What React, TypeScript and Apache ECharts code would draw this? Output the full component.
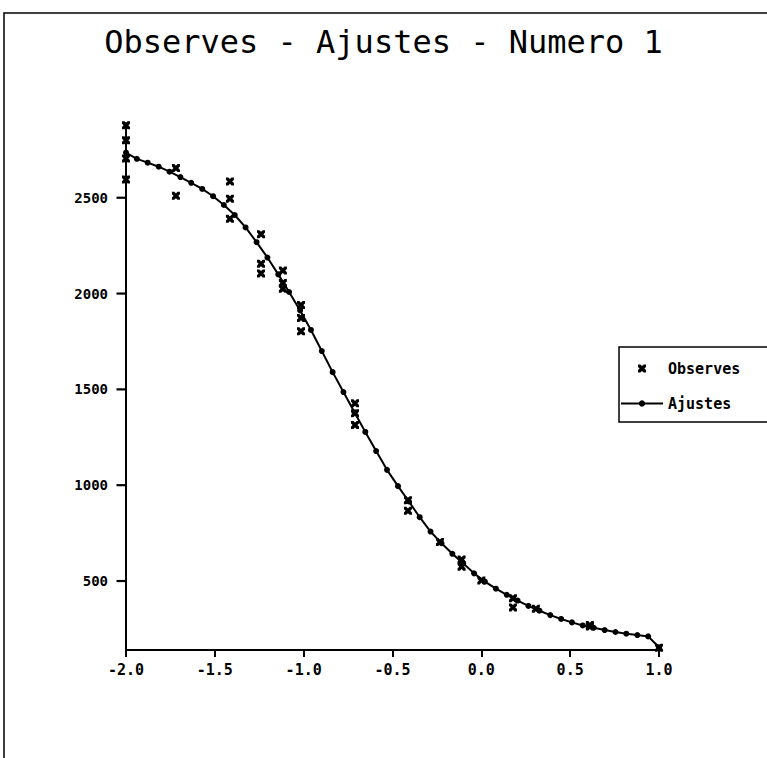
import React, { useEffect, useRef } from "react";
import * as echarts from "echarts";

const titleText = "Observes - Ajustes - Numero 1";
const seriesNames = ["Observes", "Ajustes"];

const xTickValues = [-2.0, -1.5, -1.0, -0.5, 0.0, 0.5, 1.0];
const yTickValues = [500, 1000, 1500, 2000, 2500];

// Fitted curve (Ajustes)
const fitX = [
  -2.0, -1.939, -1.878, -1.816, -1.755, -1.694, -1.633, -1.571, -1.51, -1.449,
  -1.388, -1.327, -1.265, -1.204, -1.143, -1.082, -1.02, -0.959, -0.898, -0.837,
  -0.776, -0.714, -0.653, -0.592, -0.531, -0.469, -0.408, -0.347, -0.286, -0.224,
  -0.163, -0.102, -0.041, 0.02, 0.082, 0.143, 0.204, 0.265, 0.327, 0.388,
  0.449, 0.51, 0.571, 0.633, 0.694, 0.755, 0.816, 0.878, 0.939, 1.0,
];
const fitY = [
  2735, 2703, 2683, 2662, 2636, 2608, 2578, 2546, 2508, 2462,
  2410, 2345, 2268, 2188, 2100, 2008, 1912, 1810, 1700, 1590,
  1486, 1381, 1278, 1178, 1080, 995, 915, 833, 758, 697,
  642, 592, 540, 497, 460, 428, 398, 370, 345, 322,
  302, 284, 268, 256, 244, 234, 225, 218, 211, 154,
];

// Observations (Observes)
const obsX = [
  -2.0, -2.0, -2.0, -2.0,
  -1.719, -1.719,
  -1.415, -1.415, -1.415,
  -1.24, -1.24, -1.24,
  -1.117, -1.117, -1.117,
  -1.015, -1.015, -1.015,
  -0.711, -0.711, -0.711,
  -0.413, -0.413,
  -0.233,
  -0.111, -0.111,
  0.0,
  0.178, 0.178,
  0.307,
  0.611, 0.611,
  1.0,
];
const obsY = [
  2878, 2800, 2705, 2595,
  2655, 2510,
  2585, 2495, 2390,
  2310, 2155, 2105,
  2120, 2055, 2025,
  1940, 1873, 1803,
  1427, 1375, 1314,
  922, 866,
  704,
  612, 575,
  503,
  410, 362,
  355,
  270, 262,
  152,
];

const Y_MIN = 140;
const Y_MAX = 2890;
const X_MIN = -2;

const markPath =
  "path://M0,0 L3,0 L5,2 L7,0 L10,0 L10,3 L8,5 L10,7 L10,10 L7,10 L5,8 L3,10 L0,10 L0,7 L2,5 L0,3 Z";

export default function App() {
  const ref = useRef<HTMLDivElement>(null);
  useEffect(() => {
    if (!ref.current) return;
    const chart = echarts.init(ref.current, null, { renderer: "svg" });
    const fitData = fitX.map((x, i) => [x, fitY[i]]);
    const obsData = obsX.map((x, i) => [x, obsY[i]]);
    const yTickData = yTickValues.map((v) => [X_MIN, v]);
    const labelFont = {
      fontFamily: "DejaVu Sans Mono",
      fontWeight: "bold" as const,
      color: "#000",
    };
    chart.setOption({
      animation: false,
      backgroundColor: "#fff",
      title: {
        text: titleText,
        left: "center",
        top: 21,
        textStyle: {
          fontFamily: "DejaVu Sans Mono",
          fontWeight: "normal",
          fontSize: 32,
          color: "#000",
        },
      },
      legend: {
        orient: "vertical",
        left: 620,
        top: 361,
        itemWidth: 42,
        itemHeight: 8,
        itemGap: 20,
        padding: 0,
        data: seriesNames,
        textStyle: { ...labelFont, fontSize: 15 },
      },
      grid: { left: 126, top: 123, width: 533, height: 527, containLabel: false },
      xAxis: {
        type: "value",
        min: X_MIN,
        max: 1,
        interval: 0.5,
        splitLine: { show: false },
        axisLine: { onZero: false, lineStyle: { color: "#000", width: 2 } },
        axisTick: { show: true, length: 7, lineStyle: { color: "#000", width: 2 } },
        axisLabel: {
          ...labelFont,
          fontSize: 15,
          margin: 12,
          customValues: xTickValues,
          formatter: (v: number) => v.toFixed(1),
        },
      },
      yAxis: {
        type: "value",
        min: Y_MIN,
        max: Y_MAX,
        splitLine: { show: false },
        axisLine: { onZero: false, lineStyle: { color: "#000", width: 2 } },
        axisTick: { show: false },
        axisLabel: {
          ...labelFont,
          fontSize: 14,
          margin: 18,
          customValues: yTickValues,
          formatter: (v: number) => String(v),
        },
      },
      graphic: [
        {
          type: "rect",
          z: -1,
          shape: { x: 4, y: 13, width: 900, height: 900 },
          style: { stroke: "#000", lineWidth: 1.5, fill: "none" },
        },
        {
          type: "rect",
          shape: { x: 619, y: 347, width: 200, height: 75 },
          style: { stroke: "#000", lineWidth: 1.5, fill: "none" },
        },
      ],
      series: [
        {
          name: seriesNames[0],
          type: "scatter",
          data: obsData,
          symbol: markPath,
          symbolSize: 8,
          itemStyle: { color: "#000", opacity: 1 },
          z: 3,
        },
        {
          name: seriesNames[1],
          type: "line",
          data: fitData,
          symbol: "circle",
          symbolSize: 6,
          showAllSymbol: true,
          lineStyle: { color: "#000", width: 2 },
          itemStyle: { color: "#000", opacity: 1 },
          z: 2,
        },
        {
          name: "yTicks",
          type: "scatter",
          data: yTickData,
          symbol: "rect",
          symbolSize: [9, 2.2],
          symbolOffset: [-5, 0],
          clip: false,
          silent: true,
          itemStyle: { color: "#000", opacity: 1 },
          z: 4,
        },
      ],
    });
    return () => chart.dispose();
  }, []);
  return (
    <div
      ref={ref}
      style={{ position: "fixed", left: 0, top: 0, width: 767, height: 758 }}
    />
  );
}
